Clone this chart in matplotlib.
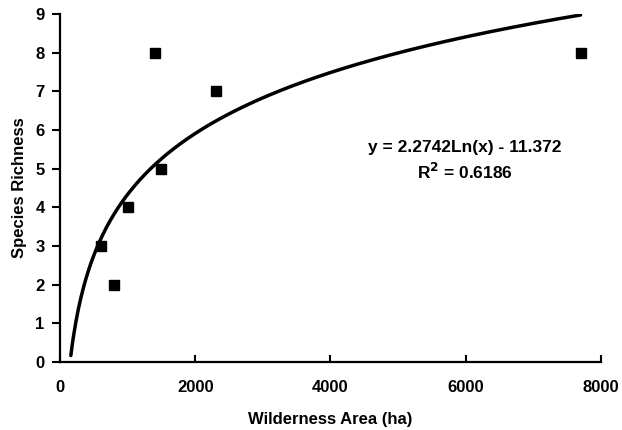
import numpy as np
import matplotlib
matplotlib.use('Agg')
import matplotlib.pyplot as plt

# wilderness area (ha) vs species richness
area_ha = [600, 800, 1000, 1400, 1500, 2300, 7700]
richness = [3, 2, 4, 8, 5, 7, 8]

# logarithmic trendline as reported on the chart
slope = 2.2742
intercept = -11.372
r_squared = 0.6186
x_ticks = [0, 2000, 4000, 6000, 8000]
y_ticks = list(range(0, 10))

plt.rcParams['font.family'] = ['Liberation Sans', 'DejaVu Sans']
plt.rcParams['font.weight'] = 'bold'

fig = plt.figure(figsize=(6.22, 4.30), dpi=100)
ax = fig.add_axes([0.0965, 0.158, 0.8695, 0.809])

xs = np.linspace(160, max(area_ha), 400)
ax.plot(xs, slope * np.log(xs) + intercept, color='black', linewidth=2.5, solid_capstyle='round')
ax.plot(area_ha, richness, 's', color='black', markersize=6.5, linestyle='none')

ax.text(5990, 5.56, f'y = {slope:.4f}Ln(x) - {abs(intercept):.3f}', ha='center', va='center',
        fontsize=12.5, fontweight='bold')
ax.text(5990, 4.91, f'R$^2$ = {r_squared:.4f}', ha='center', va='center',
        fontsize=12.5, fontweight='bold')

ax.set_xlim(0, 8000)
ax.set_ylim(0, 9)
ax.set_xticks(x_ticks)
ax.set_yticks(y_ticks)
ax.spines['top'].set_visible(False)
ax.spines['right'].set_visible(False)
for s in ('left', 'bottom'):
    ax.spines[s].set_linewidth(1.6)
ax.tick_params(axis='x', direction='in', length=5, width=1.5, pad=13, labelsize=12)
ax.tick_params(axis='y', direction='out', length=6, width=1.5, pad=5, labelsize=12)
for lbl in ax.get_xticklabels() + ax.get_yticklabels():
    lbl.set_fontweight('bold')

ax.set_xlabel('Wilderness Area (ha)', fontsize=12, fontweight='bold', labelpad=12)
ax.set_ylabel('Species Richness', fontsize=12, fontweight='bold', labelpad=6)

fig.savefig('out.png', dpi=100)
